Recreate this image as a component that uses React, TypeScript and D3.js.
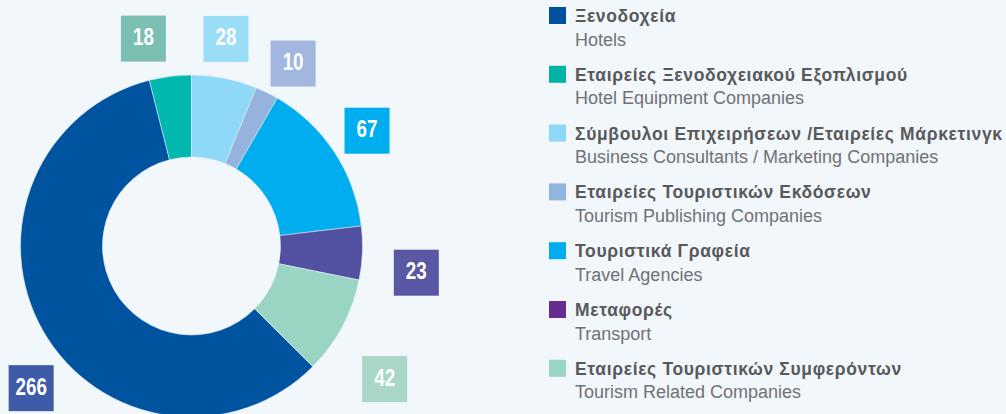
import React from "react";
import * as d3 from "d3";

// ---- data ----
const categoriesGreek = [
  "Ξενοδοχεία",
  "Εταιρείες Ξενοδοχειακού Εξοπλισμού",
  "Σύμβουλοι Επιχειρήσεων /Εταιρείες Μάρκετινγκ",
  "Εταιρείες Τουριστικών Εκδόσεων",
  "Τουριστικά Γραφεία",
  "Μεταφορές",
  "Εταιρείες Τουριστικών Συμφερόντων",
];
const categoriesEnglish = [
  "Hotels",
  "Hotel Equipment Companies",
  "Business Consultants / Marketing Companies",
  "Tourism Publishing Companies",
  "Travel Agencies",
  "Transport",
  "Tourism Related Companies",
];
const values = [266, 18, 28, 10, 67, 23, 42];

// ---- styles ----
const sliceColors = ["#00539F", "#00B8AD", "#8ED8F8", "#95B3DD", "#00AEEF", "#5250A1", "#9AD4C2"];
const legendColors = ["#0050A0", "#00B4A5", "#8DD8F8", "#94B4E0", "#00AEEF", "#662D91", "#9AD6C3"];
const boxColors = ["#3D5BA6", "#7ABFB2", "#9ADDF7", "#A1B7E0", "#00AEEF", "#5A57A4", "#A9D7C5"];
// label box nudges away from the arc centroid (layout only)
const labelShift: [number, number][] = [
  [22, 38], [-22, 1], [-6, -1], [9, 6], [0, 0], [15, 18], [8, 34],
];

const W = 1006;
const H = 414;
const BG = "#F2F7FC";
const CX = 191.5;
const CY = 246;
const R_OUT = 171;
const R_IN = 89;
const R_LABEL = 210;
const TOP_SLICE = 2; // slice that starts at 12 o'clock

export default function App() {
  const total = d3.sum(values);
  const before = d3.sum(values.slice(0, TOP_SLICE));
  const start = (-2 * Math.PI * before) / total;
  const pie = d3
    .pie<number>()
    .sort(null)
    .startAngle(start)
    .endAngle(start + 2 * Math.PI);
  const arcs = pie(values);
  const arc = d3.arc<d3.PieArcDatum<number>>().innerRadius(R_IN).outerRadius(R_OUT);
  const labelArc = d3.arc<d3.PieArcDatum<number>>().innerRadius(R_LABEL).outerRadius(R_LABEL);

  const legendX = 549;
  const legendTop = 7;
  const legendStep = 58.8;

  const boxW = 45;
  const boxH = 46;

  return (
    <svg
      width={W}
      height={H}
      style={{ position: "fixed", left: 0, top: 0, background: BG, display: "block" }}
    >
      <rect x={0} y={0} width={W} height={H} fill={BG} />
      <g transform={`translate(${CX},${CY})`}>
        {arcs.map((a, i) => (
          <path key={i} d={arc(a) || ""} fill={sliceColors[i]} stroke={BG} strokeWidth={0.5} />
        ))}
        {arcs.map((a, i) => {
          const [lx, ly] = labelArc.centroid(a);
          const x = lx + labelShift[i][0];
          const y = ly + labelShift[i][1];
          return (
            <g key={"l" + i}>
              <rect x={x - boxW / 2} y={y - boxH / 2} width={boxW} height={boxH} fill={boxColors[i]} />
              <text
                transform={`translate(${x},${y + 6.5}) scale(0.8,1)`}
                textAnchor="middle"
                fill="#FFFFFF"
                fontFamily="'Liberation Sans', Arial, sans-serif"
                fontWeight="bold"
                fontSize={23.5}
              >
                {values[i]}
              </text>
            </g>
          );
        })}
      </g>
      <g>
        {categoriesGreek.map((g, i) => {
          const top = legendTop + i * legendStep;
          return (
            <g key={"lg" + i}>
              <rect x={legendX} y={top} width={17} height={17} fill={legendColors[i]} />
              <text
                x={legendX + 26}
                y={top + 15}
                fontFamily="'Liberation Sans', Arial, sans-serif"
                fontWeight="bold"
                fontSize={17.5}
                letterSpacing={0.65}
                fill="#58595B"
              >
                {g}
              </text>
              <text
                x={legendX + 26}
                y={top + 38.5}
                fontFamily="'Liberation Sans', Arial, sans-serif"
                fontSize={18}
                fill="#707174"
              >
                {categoriesEnglish[i]}
              </text>
            </g>
          );
        })}
      </g>
    </svg>
  );
}
